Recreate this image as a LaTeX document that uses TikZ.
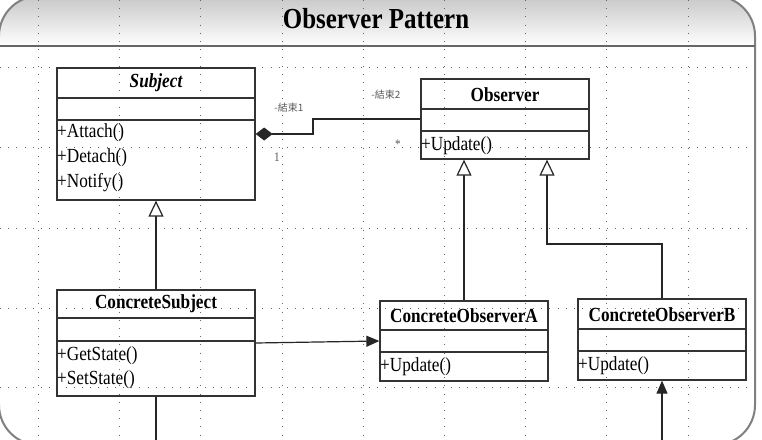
\documentclass[tikz,border=0pt]{standalone}
\usepackage{fontspec}
\setmainfont{Liberation Serif}[FakeStretch=0.86]
\newfontfamily\cjk{Noto Sans CJK TC}
\usetikzlibrary{arrows.meta}
\tikzset{
  gridline/.style={black!60, line width=1pt, dash pattern=on 1pt off 7.2pt},
  cls/.style={draw=black!80, line width=1.3pt, inner sep=0pt, fill=none},
  divider/.style={black!80, line width=1.3pt},
  cname/.style={font=\fontsize{20}{21}\selectfont\bfseries, inner sep=0pt},
  meth/.style={font=\fontsize{20}{21}\selectfont, inner sep=0pt, anchor=west},
  role/.style={font=\cjk\fontsize{10}{11}\selectfont, text=black!65, inner sep=0pt},
  mult/.style={font=\fontsize{13}{14}\selectfont, text=black!65, inner sep=0pt},
  conn/.style={black!85, line width=1.2pt},
  inh/.style={conn, -{Triangle[length=16pt, width=15pt, fill=white]}},
  arr/.style={conn, -{Triangle[length=13pt, width=11pt]}},
  comp/.style={conn, {Diamond[length=17pt, width=13pt]}-}
}
\begin{document}
\begin{tikzpicture}[x=1pt, y=-1pt]
\useasboundingbox (0,0) rectangle (762,439);
\clip (0,0) rectangle (762,439);
\fill[white] (0,0) rectangle (762,439);
% header shading
\begin{scope}
  \clip[rounded corners=40pt] (-1,-4) rectangle (755,445);
  \shade[top color=black!22, bottom color=white] (-1,-4) rectangle (755,46);
\end{scope}
% grid
\foreach \gx in {38,119,200,282,363,444,525,606,688} {
  \draw[gridline] (\gx,0) -- (\gx,439);
}
\foreach \gy in {67,147,228,308,387} {
  \draw[gridline] (0,\gy) -- (762,\gy);
}
% frame
\draw[black!50, line width=2pt, rounded corners=40pt] (-1,-4) rectangle (755,445);
\draw[black!60, line width=2.6pt] (-1,46) -- (755,46);
\node[font=\fontsize{29}{30}\selectfont\bfseries, inner sep=0pt] (title) at (376,19) {Observer Pattern};

% Subject
\node[cls, minimum width=198pt, minimum height=132pt] (subject) at (156,134) {};
\draw[divider] (57,98) -- (255,98);
\draw[divider] (57,120) -- (255,120);
\node[cname, font=\fontsize{20}{21}\selectfont\bfseries\itshape] (subjectname) at (156,83) {Subject};
\node[meth] (attach) at (57,133) {+Attach()};
\node[meth] (detach) at (57,158) {+Detach()};
\node[meth] (notify) at (57,183) {+Notify()};

% Observer
\node[cls, minimum width=168pt, minimum height=80pt] (observer) at (505,119) {};
\draw[divider] (421,109) -- (589,109);
\draw[divider] (421,131) -- (589,131);
\node[cname] (observername) at (505,95) {Observer};
\node[meth] (oupdate) at (421,146) {+Update()};

% ConcreteSubject
\node[cls, minimum width=198pt, minimum height=106pt] (csubject) at (156,343) {};
\draw[divider] (57,318) -- (255,318);
\draw[divider] (57,341) -- (255,341);
\node[cname] (csubjectname) at (156,304) {ConcreteSubject};
\node[meth] (getstate) at (57,356) {+GetState()};
\node[meth] (setstate) at (57,380) {+SetState()};

% ConcreteObserverA
\node[cls, minimum width=168pt, minimum height=80pt] (coA) at (464,341) {};
\draw[divider] (380,330) -- (548,330);
\draw[divider] (380,352) -- (548,352);
\node[cname] (coAname) at (464,316) {ConcreteObserverA};
\node[meth] (aupdate) at (380,367) {+Update()};

% ConcreteObserverB
\node[cls, minimum width=168pt, minimum height=81pt] (coB) at (662,339.5) {};
\draw[divider] (578,329) -- (746,329);
\draw[divider] (578,351) -- (746,351);
\node[cname] (coBname) at (662,315) {ConcreteObserverB};
\node[meth] (bupdate) at (578,366) {+Update()};

% connectors
\coordinate (k1) at (313,134);
\coordinate (bend) at (547,244);
\coordinate (sbot) at (156,445);
\coordinate (bbot) at (662,445);
\draw[comp] (subject.east) -- (k1) |- (observer.west);
\draw[inh] (csubject.north) -- (subject.south);
\draw[inh] (coA.north) -- (coA.north |- observer.south);
\draw[inh] (coB.north) |- (bend) -- (bend |- observer.south);
\draw[arr] (csubject.east) -- (coA.west);
\draw[conn] (csubject.south) -- (sbot);
\draw[arr] (bbot) -- (coB.south);

% role labels
\node[role] (r1) at (289,108) {-結束1};
\node[mult] (m1) at (277,157) {1};
\node[role] (r2) at (386,95) {-結束2};
\node[mult] (m2) at (398,144) {*};
\end{tikzpicture}
\end{document}
